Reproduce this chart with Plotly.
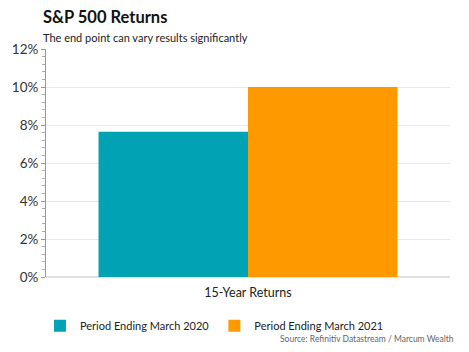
import plotly.graph_objects as go

categories = ["15-Year Returns"]
series_names = ["Period Ending March 2020", "Period Ending March 2021"]
series_values = [[0.0765], [0.100]]
series_colors = ["#00A2B3", "#FF9900"]
y_ticks = [0, 0.02, 0.04, 0.06, 0.08, 0.10, 0.12]
y_ticklabels = ["0%", "2%", "4%", "6%", "8%", "10%", "12%"]

FONT = "Lato"

fig = go.Figure()
for name, vals, col in zip(series_names, series_values, series_colors):
    fig.add_trace(go.Bar(x=categories, y=vals, name=name, marker=dict(color=col, line=dict(width=0))))

fig.update_layout(
    width=469, height=352,
    margin=dict(l=44, r=19, t=49, b=74),
    paper_bgcolor="white", plot_bgcolor="white",
    barmode="group", bargap=0.26, bargroupgap=0.0,
    font=dict(family=FONT, color="#333333", size=12),
    title=dict(text="<b>S&P 500 Returns</b>", x=43/469, xref="container", xanchor="left",
               y=0.952, yanchor="middle", font=dict(size=16.5, color="#111111", family=FONT)),
    showlegend=True,
    legend=dict(orientation="h", x=-0.015, xanchor="left", y=-0.214, yanchor="middle",
                font=dict(size=11, color="#222222"), traceorder="normal", itemwidth=30),
    annotations=[
        dict(text="The end point can vary results significantly", xref="paper", yref="paper",
             x=-0.0025, y=1.052, xanchor="left", yanchor="middle", showarrow=False,
             font=dict(size=11, color="#222222"), xshift=-4),
        dict(text="Source: Refinitiv Datastream / Marcum Wealth", xref="paper", yref="paper",
             x=1.0, y=-0.271, xanchor="right", yanchor="middle", showarrow=False,
             font=dict(size=8.5, color="#666666"), xshift=6),
    ],
)
fig.update_yaxes(range=[0, 0.12], tickvals=y_ticks, ticktext=y_ticklabels,
                 showgrid=True, gridcolor="#E8E8E8", gridwidth=1,
                 showline=True, linecolor="#999999", linewidth=1,
                 ticks="outside", ticklen=4, tickcolor="#999999",
                 minor=dict(dtick=0.004, ticks="outside", ticklen=3, tickcolor="#AAAAAA", showgrid=False),
                 zeroline=True, zerolinecolor="#E0E0E0",
                 tickfont=dict(size=13.5, color="#333333"), fixedrange=True)
fig.update_xaxes(showline=False, ticks="outside", ticklen=4, tickcolor="rgba(0,0,0,0)",
                 tickfont=dict(size=12.5, color="#222222"))

fig.write_html("out.html")
